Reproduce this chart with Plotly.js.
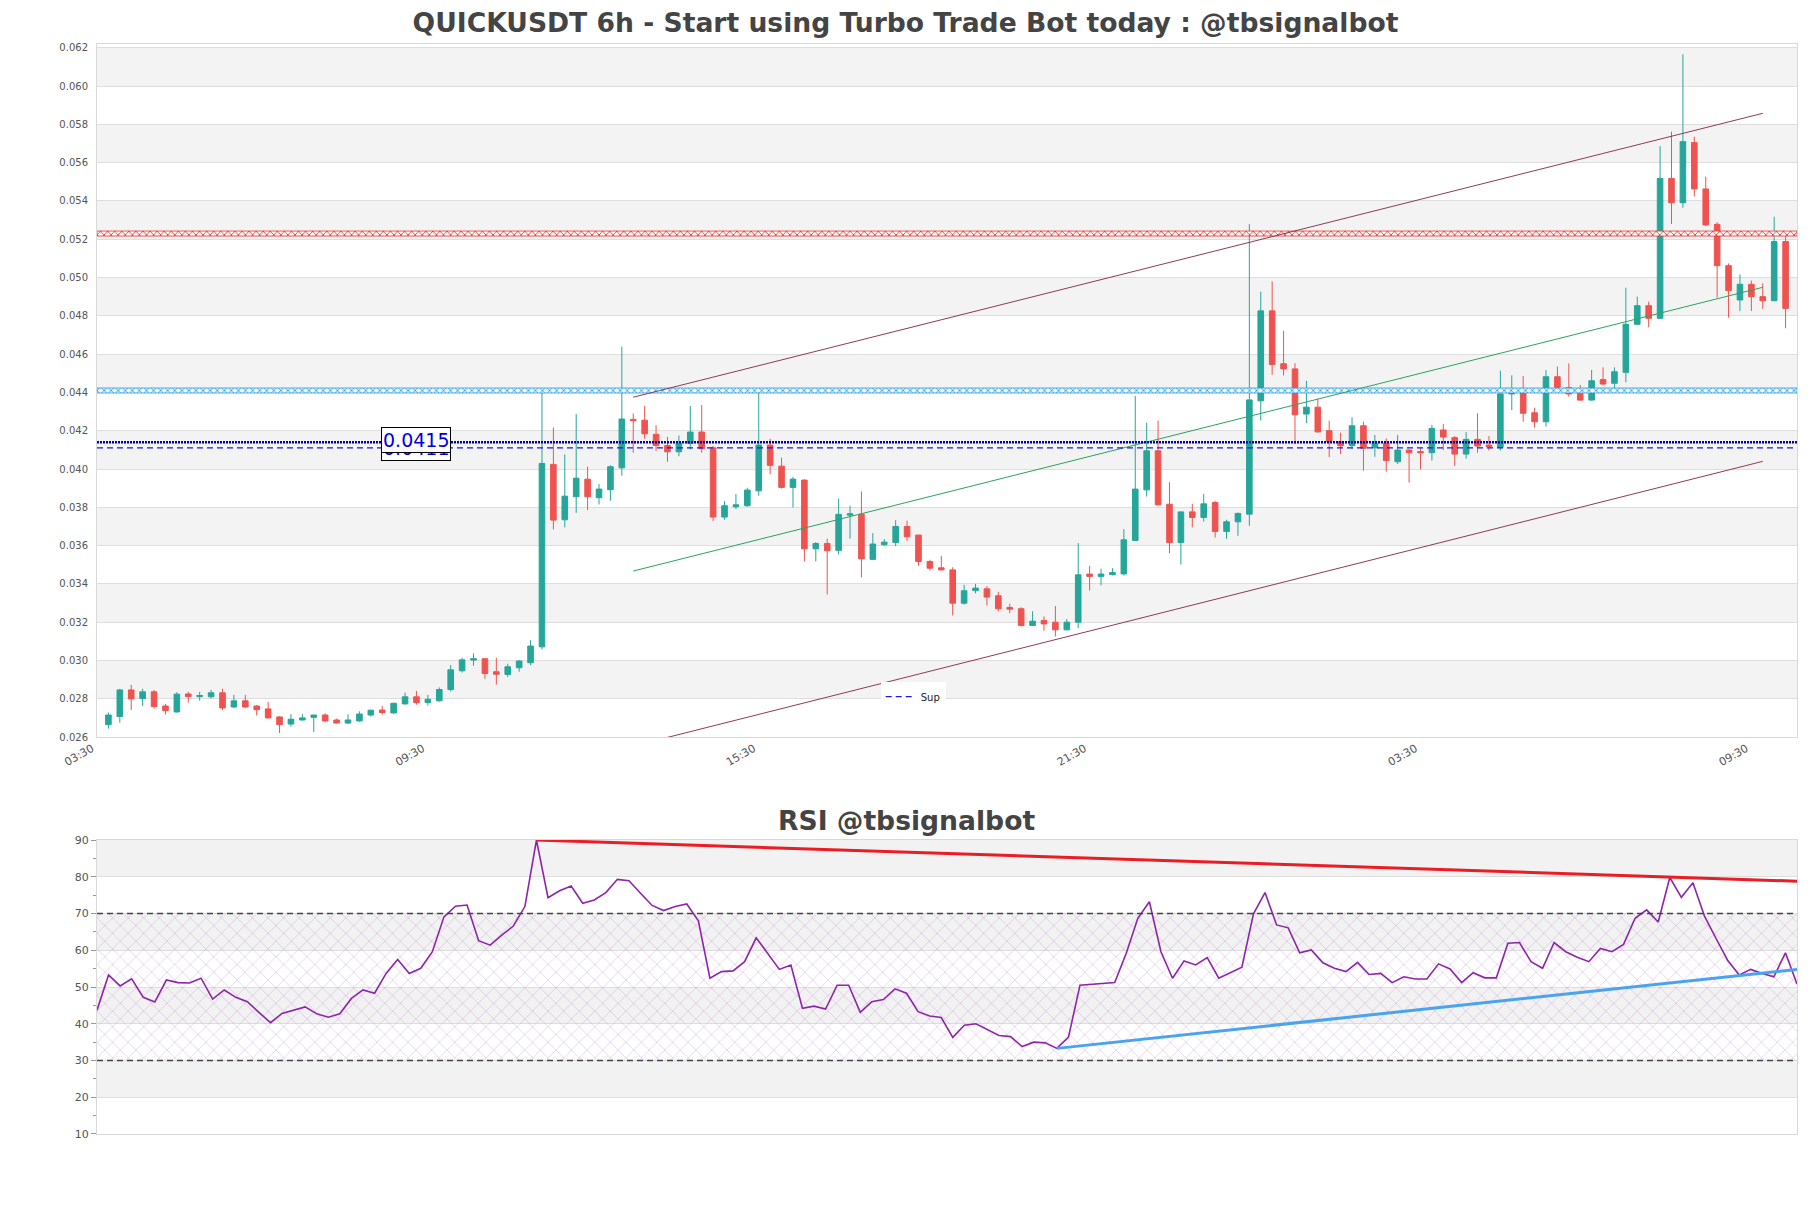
<!DOCTYPE html>
<html><head><meta charset="utf-8">
<script src="https://cdn.plot.ly/plotly-3.0.1.min.js"></script>
<style>body{margin:0;background:#fff}#chart{width:1811px;height:1208px}</style>
</head><body><div id="chart"></div>
<script>
const openP = [0.02665,0.02707,0.02846,0.02801,0.02836,0.02762,0.02731,0.02825,0.02811,0.0281,
0.02831,0.02757,0.02789,0.02762,0.02747,0.02705,0.02668,0.02689,0.02703,0.02715,
0.02689,0.02673,0.02684,0.02715,0.02741,0.02726,0.02773,0.0281,0.0278,0.02789,
0.02848,0.02946,0.03002,0.03009,0.02941,0.02927,0.02962,0.02988,0.03071,0.04024,
0.03735,0.03855,0.03947,0.0385,0.03892,0.04006,0.04259,0.04255,0.04181,0.04123,
0.0409,0.04134,0.04193,0.04111,0.03749,0.03803,0.03808,0.03886,0.04125,0.04015,
0.03904,0.03942,0.03583,0.03611,0.03575,0.03759,0.03764,0.03528,0.03604,0.03616,
0.037,0.03655,0.03517,0.03484,0.03473,0.03299,0.03365,0.03374,0.03338,0.03277,
0.0327,0.03183,0.03209,0.032,0.0316,0.032,0.03451,0.03439,0.03449,0.03452,
0.03627,0.03891,0.04095,0.03816,0.03616,0.03776,0.03747,0.03825,0.03674,0.03724,
0.03764,0.04356,0.04826,0.0455,0.04523,0.04287,0.04323,0.042,0.04143,0.04122,
0.04226,0.04111,0.04134,0.04038,0.04099,0.04091,0.04085,0.04204,0.04164,0.04078,
0.04155,0.04125,0.04113,0.04392,0.04399,0.04294,0.04247,0.04482,0.04425,0.04395,
0.0436,0.04467,0.04448,0.04505,0.04756,0.04853,0.04787,0.05518,0.05391,0.05705,
0.05463,0.05278,0.05062,0.04883,0.04965,0.049,0.04879,0.05188];
const highP = [0.02728,0.02852,0.02872,0.02852,0.02846,0.02773,0.02834,0.02836,0.02836,0.02846,
0.02852,0.0282,0.0282,0.02766,0.02783,0.02708,0.0272,0.0272,0.02715,0.02724,
0.02696,0.02719,0.02734,0.02743,0.02762,0.0278,0.02832,0.02841,0.0282,0.02859,
0.02976,0.03014,0.03037,0.03009,0.03014,0.02983,0.03002,0.03106,0.04407,0.04217,
0.04076,0.04287,0.04012,0.03921,0.0402,0.04639,0.0429,0.04329,0.04229,0.04168,
0.04175,0.04329,0.04334,0.0412,0.03832,0.03869,0.03902,0.04407,0.04158,0.04059,
0.03959,0.03947,0.03618,0.03637,0.03846,0.03808,0.03883,0.03665,0.03634,0.03733,
0.0373,0.03655,0.03526,0.03547,0.03487,0.03395,0.034,0.03388,0.03358,0.03296,
0.03278,0.03257,0.0323,0.03284,0.03216,0.03613,0.03494,0.03479,0.03482,0.03686,
0.04382,0.04241,0.04253,0.03931,0.03776,0.03818,0.0387,0.03834,0.03735,0.03773,
0.05279,0.04926,0.0498,0.04722,0.04553,0.04461,0.04368,0.04252,0.0419,0.0427,
0.04247,0.04178,0.0416,0.04178,0.04103,0.04108,0.0423,0.04235,0.04172,0.04193,
0.04291,0.04172,0.04514,0.04489,0.04486,0.0432,0.04517,0.04535,0.04552,0.04439,
0.04517,0.04531,0.04531,0.04947,0.049,0.04874,0.05687,0.05762,0.06166,0.05736,
0.05527,0.05289,0.05074,0.05017,0.04984,0.0497,0.05318,0.05217];
const lowP = [0.02644,0.02675,0.02741,0.02762,0.02748,0.02717,0.02728,0.0278,0.0279,0.02801,
0.02741,0.02752,0.02752,0.02712,0.02696,0.02621,0.02654,0.02686,0.02626,0.0268,
0.0267,0.02668,0.0268,0.02707,0.02717,0.02722,0.02769,0.02769,0.02764,0.02785,
0.02838,0.02937,0.02972,0.02904,0.02874,0.02913,0.02941,0.02976,0.03057,0.03684,
0.03695,0.03771,0.03785,0.03815,0.03834,0.03965,0.04085,0.04158,0.04095,0.04038,
0.04067,0.04102,0.04085,0.03728,0.03735,0.03791,0.03803,0.0386,0.03972,0.03898,
0.03799,0.03517,0.03517,0.03345,0.03554,0.03636,0.03434,0.03524,0.03599,0.03597,
0.03625,0.03495,0.0347,0.0347,0.03235,0.03292,0.03351,0.03287,0.03257,0.03247,
0.03177,0.03181,0.03155,0.03125,0.03156,0.03169,0.03365,0.03392,0.03444,0.03444,
0.03627,0.03856,0.03808,0.0356,0.03501,0.03695,0.03726,0.03642,0.03635,0.03651,
0.03703,0.04253,0.04492,0.04489,0.0413,0.0424,0.0419,0.04062,0.04078,0.04104,
0.03991,0.04064,0.03986,0.04026,0.03929,0.03998,0.04044,0.04099,0.04016,0.04054,
0.04085,0.04096,0.04096,0.04308,0.04247,0.04216,0.04221,0.04421,0.04378,0.04357,
0.04357,0.04438,0.04413,0.04453,0.04752,0.0474,0.04787,0.0528,0.05365,0.05423,
0.05269,0.04895,0.04791,0.04825,0.04825,0.04836,0.04879,0.04735];
const closeP = [0.02715,0.02846,0.02799,0.02836,0.02759,0.02738,0.02824,0.02811,0.02817,0.02831,
0.02752,0.02789,0.02757,0.02743,0.027,0.02665,0.02693,0.027,0.02715,0.02684,
0.02673,0.02689,0.0272,0.0274,0.02728,0.02776,0.0281,0.0278,0.02797,0.02848,
0.02951,0.03003,0.03009,0.02932,0.02928,0.02967,0.02997,0.03075,0.04029,0.03733,
0.03858,0.03952,0.03855,0.03895,0.04012,0.04261,0.04252,0.04184,0.04123,0.0409,
0.04134,0.04193,0.04106,0.03749,0.03808,0.03813,0.0389,0.04125,0.04019,0.03904,
0.03947,0.03583,0.03611,0.03573,0.03763,0.03766,0.03531,0.03608,0.03618,0.037,
0.03646,0.03517,0.03482,0.03473,0.03299,0.03364,0.03378,0.03331,0.0327,0.03268,
0.03183,0.03205,0.03191,0.0316,0.032,0.03447,0.03439,0.03451,0.03459,0.0363,
0.03895,0.04095,0.03813,0.03616,0.03776,0.03747,0.03818,0.03674,0.03724,0.03768,
0.04361,0.04826,0.04546,0.04523,0.04283,0.04323,0.04194,0.04144,0.04122,0.04226,
0.04108,0.04134,0.04044,0.04099,0.04085,0.04085,0.04212,0.04167,0.04078,0.04155,
0.0412,0.04117,0.04392,0.04404,0.04291,0.04247,0.04482,0.04427,0.04392,0.0436,
0.04461,0.04444,0.04508,0.04756,0.04853,0.04787,0.05518,0.05391,0.0571,0.05463,
0.05275,0.05062,0.04932,0.04965,0.049,0.04879,0.05188,0.04839];
const candleIdx = openP.map((_, i) => i);

const rsi = [43.7,53.3,50.3,52.2,47.2,45.9,51.9,51.2,51.1,52.4,
46.7,49.2,47.2,46.0,43.1,40.3,42.8,43.6,44.6,42.7,
41.8,42.7,46.9,49.2,48.3,53.7,57.5,53.7,55.1,59.6,
69.1,72.0,72.3,62.6,61.4,64.1,66.6,71.9,90.0,74.3,
76.2,77.5,72.8,73.7,75.7,79.3,78.9,75.5,72.2,70.8,
71.9,72.6,68.0,52.4,54.2,54.4,56.9,63.4,59.2,54.8,
56.0,44.2,44.8,44.0,50.5,50.5,43.1,46.0,46.6,49.5,
48.3,43.3,42.1,41.7,36.3,39.6,40.0,38.3,36.8,36.5,
33.8,35.0,34.8,33.3,36.3,50.5,50.8,51.0,51.2,59.2,
68.7,73.2,59.6,52.4,57.1,56.0,58.0,52.4,53.9,55.4,
69.9,75.7,66.9,66.1,59.3,60.1,56.6,55.1,54.2,56.7,
53.4,53.7,51.2,52.8,52.2,52.2,56.3,54.9,51.2,53.9,
52.5,52.5,61.9,62.1,56.9,55.1,62.1,59.6,58.1,56.9,
60.5,59.6,61.6,68.7,71.0,67.7,79.8,74.4,78.4,69.3,
63.2,57.3,53.3,54.8,53.7,52.8,59.3,50.8];
const rsiIdx = rsi.map((_, i) => i);

const tickPos = [-1, 28, 57, 86, 115, 144];
const tickText = ['03:30','09:30','15:30','21:30','03:30','09:30'];
const xSpan = [-1, 148];

const priceBands = [[0.028,0.030],[0.032,0.034],[0.036,0.038],[0.040,0.042],[0.044,0.046],[0.048,0.050],[0.052,0.054],[0.056,0.058],[0.060,0.062]];
const rsiBands = [[20,30],[40,50],[60,70],[80,90]];
const rsiHatch = [30, 70];
const rsiLevels = [70, 30];

const resistanceLevel = 0.0523;
const pivotLevel = 0.0441;
const supDotted = 0.0414;
const supDashed = 0.0411;
const labelTop = {text:'0.0415', x:27, y:0.0415};
const labelLow = {text:'0.0411', x:27, y:0.0411};

const chanX = [46, 145];
const chanUpper = [0.04375, 0.05858];
const chanMid = [0.03467, 0.04949];
const chanLower = [0.02553, 0.0404];

const rsiResX = [38, 147], rsiResY = [90, 78.8];
const rsiSupX = [83, 147], rsiSupY = [33.3, 54.8];

const BAND_HALF = 0.00013;
function band(level, color, bg) {
  const x0 = xSpan[0], x1 = xSpan[1];
  return {type:'scatter', mode:'lines', x:[x0,x1,x1,x0,x0],
    y:[level-BAND_HALF,level-BAND_HALF,level+BAND_HALF,level+BAND_HALF,level-BAND_HALF],
    fill:'toself', fillcolor:bg,
    fillpattern:{shape:'x', size:5, solidity:0.3, fgcolor:color, bgcolor:bg},
    line:{color:color, width:0.8}, hoverinfo:'skip', showlegend:false, xaxis:'x', yaxis:'y'};
}

const traces = [
  band(resistanceLevel, '#e53935', '#fff4f4'),
  band(pivotLevel, '#1e9be9', '#f2faff'),
  {type:'scatter', mode:'lines', x:chanX, y:chanUpper, line:{color:'#8c3c54', width:1}, showlegend:false, hoverinfo:'skip'},
  {type:'scatter', mode:'lines', x:chanX, y:chanMid, line:{color:'#2ca25f', width:1}, showlegend:false, hoverinfo:'skip'},
  {type:'scatter', mode:'lines', x:chanX, y:chanLower, line:{color:'#8c3c54', width:1}, showlegend:false, hoverinfo:'skip'},
  {type:'candlestick', x:candleIdx, open:openP, high:highP, low:lowP, close:closeP,
   increasing:{line:{color:'#26a69a', width:1}, fillcolor:'#26a69a'},
   decreasing:{line:{color:'#ef5350', width:1}, fillcolor:'#ef5350'},
   whiskerwidth:0, showlegend:false, xaxis:'x', yaxis:'y'},
  {type:'scatter', mode:'lines', x:xSpan, y:[supDotted, supDotted], line:{color:'#0000aa', width:2.5, dash:'2px,1px'}, showlegend:false, hoverinfo:'skip'},
  {type:'scatter', mode:'lines', name:'Sup', x:xSpan, y:[supDashed, supDashed], line:{color:'#1a1ae6', width:1.2, dash:'6px,4px'}, showlegend:true, hoverinfo:'skip'},
  {type:'scatter', mode:'lines', x:[0,147,147,0,0], y:[rsiHatch[0],rsiHatch[0],rsiHatch[1],rsiHatch[1],rsiHatch[0]],
   fill:'toself', fillcolor:'rgba(255,255,255,0)',
   fillpattern:{shape:'x', size:11, solidity:0.08, fgcolor:'rgba(185,140,205,0.75)', bgcolor:'rgba(255,255,255,0)'},
   line:{width:0}, xaxis:'x2', yaxis:'y2', showlegend:false, hoverinfo:'skip'},
  {type:'scatter', mode:'lines', x:rsiIdx, y:rsi, line:{color:'#8e24aa', width:1.6}, xaxis:'x2', yaxis:'y2', showlegend:false},
  {type:'scatter', mode:'lines', x:rsiResX, y:rsiResY, line:{color:'#ec1c24', width:3}, xaxis:'x2', yaxis:'y2', showlegend:false},
  {type:'scatter', mode:'lines', x:rsiSupX, y:rsiSupY, line:{color:'#4aa3f0', width:3}, xaxis:'x2', yaxis:'y2', showlegend:false}
];

const shapes = [];
priceBands.forEach(b => shapes.push({type:'rect', xref:'paper', x0:0, x1:1, yref:'y', y0:b[0], y1:b[1], fillcolor:'#f3f3f3', line:{width:0}, layer:'below'}));
rsiBands.forEach(b => shapes.push({type:'rect', xref:'paper', x0:0, x1:1, yref:'y2', y0:b[0], y1:b[1], fillcolor:'#f2f2f2', line:{width:0}, layer:'below'}));
rsiLevels.forEach(v => shapes.push({type:'line', xref:'paper', x0:0, x1:1, yref:'y2', y0:v, y1:v, line:{color:'#444', width:1.3, dash:'6px,4px'}, layer:'above'}));

const annotations = [
  {xref:'x', yref:'y', x:labelLow.x, y:labelLow.y, text:labelLow.text, showarrow:false, font:{size:19, color:'#0000dd', family:'DejaVu Sans'}, bordercolor:'#000', borderwidth:1, borderpad:1, bgcolor:'rgba(255,255,255,0.9)'},
  {xref:'x', yref:'y', x:labelTop.x, y:labelTop.y, text:labelTop.text, showarrow:false, font:{size:19, color:'#0000dd', family:'DejaVu Sans'}, bordercolor:'#000', borderwidth:1, borderpad:1, bgcolor:'rgba(255,255,255,0.95)'},
  {xref:'paper', yref:'paper', x:0.4759, y:0.288, xanchor:'center', yanchor:'middle', text:'RSI @tbsignalbot', showarrow:false, font:{size:26.6, color:'#444', family:'DejaVu Sans', weight:'bold'}}
];

const axisLine = '#d9d9d9';
const layout = {
  width:1811, height:1208,
  margin:{l:97, r:14, t:44, b:74},
  paper_bgcolor:'#ffffff', plot_bgcolor:'#ffffff',
  font:{family:'DejaVu Sans, sans-serif', color:'#444'},
  title:{text:'QUICKUSDT 6h - Start using Turbo Trade Bot today : @tbsignalbot', font:{size:26.6, color:'#444', family:'DejaVu Sans', weight:'bold'}, x:0.5, xanchor:'center', xref:'container', y:0.981, yanchor:'middle', yref:'container'},
  showlegend:true,
  legend:{x:0.461, y:0.4145, xanchor:'left', yanchor:'top', bgcolor:'#ffffff', font:{size:10, color:'#222'}, borderwidth:0},
  xaxis:{domain:[0,1], anchor:'y', range:xSpan, tickmode:'array', tickvals:tickPos, ticktext:tickText, tickangle:-30, tickfont:{size:11, color:'#555'}, ticklabelshift:-5, showgrid:false, zeroline:false, showline:true, linecolor:axisLine, mirror:true, rangeslider:{visible:false}, ticks:''},
  yaxis:{domain:[0.3642,1], anchor:'x', range:[0.026,0.0622], tick0:0.026, dtick:0.002, tickformat:'.3f', tickfont:{size:10, color:'#555'}, gridcolor:'#dedede', showline:true, linecolor:axisLine, mirror:true, zeroline:false, ticklabelstandoff:6},
  xaxis2:{domain:[0,1], anchor:'y2', range:[0,147], showticklabels:false, showgrid:false, zeroline:false, showline:true, linecolor:axisLine, mirror:true, ticks:''},
  yaxis2:{domain:[0,0.2697], anchor:'x2', range:[10,90], tick0:10, dtick:10, tickfont:{size:11, color:'#555'}, gridcolor:'#dedede', ticks:'outside', ticklen:5, tickcolor:'#999',
          minor:{dtick:5, ticks:'outside', ticklen:3, tickcolor:'#999', showgrid:false}, showline:true, linecolor:axisLine, mirror:true, zeroline:false},
  shapes:shapes, annotations:annotations
};

Plotly.newPlot('chart', traces, layout, {displayModeBar:false, staticPlot:true});
</script>
</body></html>
